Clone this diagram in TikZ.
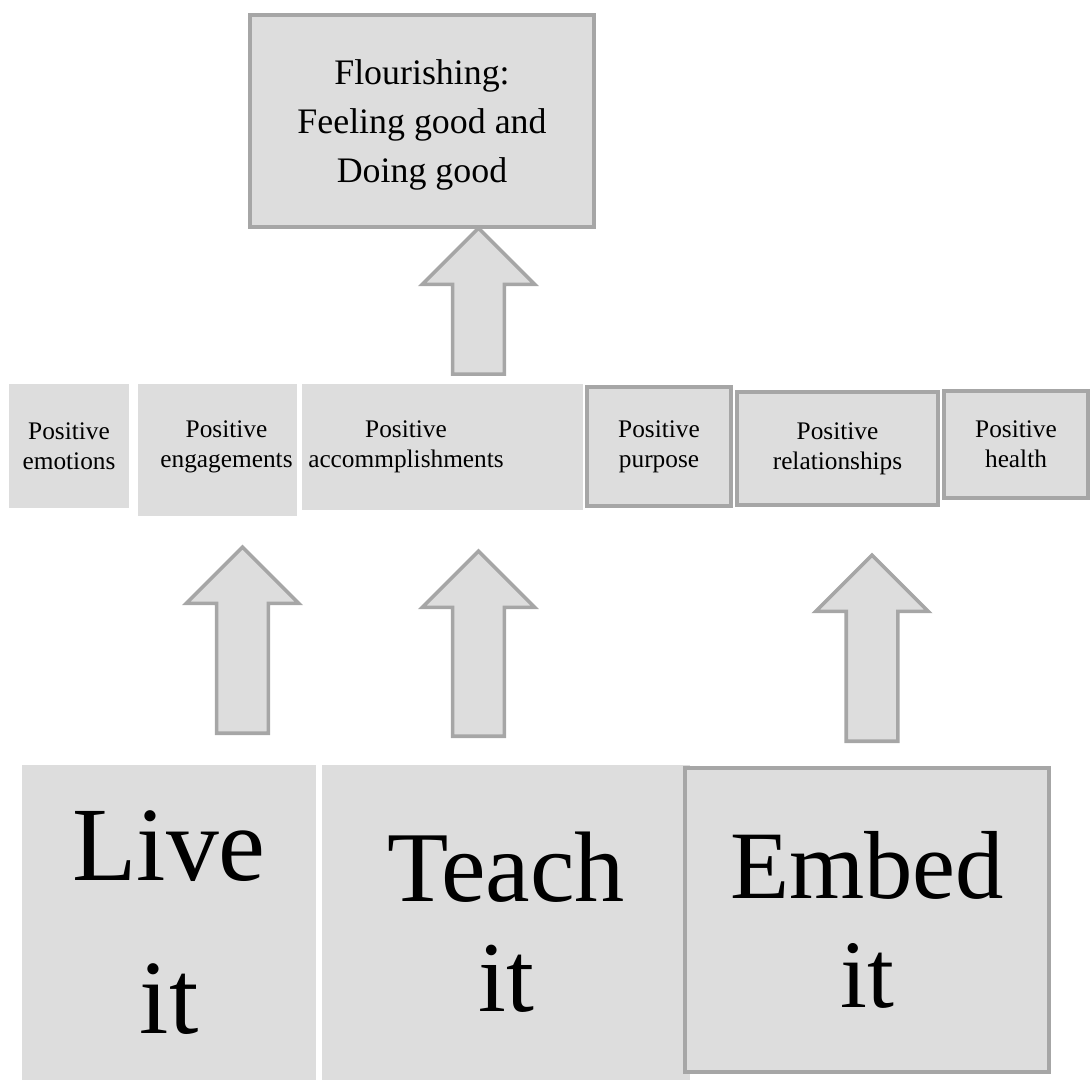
\documentclass[tikz,border=0pt]{standalone}
\usepackage{fontspec}
\setmainfont{Liberation Serif}
\usetikzlibrary{shapes.arrows}

\definecolor{boxgray}{HTML}{DDDDDD}
\definecolor{edgegray}{HTML}{A6A6A6}

\tikzset{
        plainbox/.style={fill=boxgray, inner sep=0pt, align=center},
        framedbox/.style={plainbox, draw=edgegray, line width=1.1pt},
        smalltext/.style={font=\fontsize{7.2}{8.6}\selectfont, align=center},
        uparrow/.style={single arrow, rotate=90, anchor=tail,
                inner xsep=0pt, inner ysep=0.24cm,
                fill=boxgray, draw=edgegray, line width=1pt,
                single arrow head extend=0.305cm}
}

\begin{document}
\begin{tikzpicture}[x=0.01cm, y=-0.01cm]
        \useasboundingbox (0,0) rectangle (1092,1080);

        \node[framedbox, minimum width=3.44cm, minimum height=2.12cm, text depth=0pt,
              font=\fontsize{10.2}{13.9}\selectfont] (goal) at (422,121)
              {Flourishing:\\Feeling good and\\Doing good};

        \node[plainbox, smalltext, minimum width=1.20cm, minimum height=1.24cm] (emo) at (69,446) {Positive\\emotions};
        \node[plainbox, minimum width=1.59cm, minimum height=1.32cm] (eng) at (217.5,450) {};
        \node[smalltext] (engtext) at (226.5,447) {Positive\\engagements};
        \node[plainbox, minimum width=2.81cm, minimum height=1.26cm] (acc) at (442.5,447) {};
        \node[smalltext] (acctext) at (406,447) {Positive\\accommplishments};
        \node[framedbox, smalltext, minimum width=1.44cm, minimum height=1.19cm] (pur) at (659,446.5) {Positive\\purpose};
        \node[framedbox, smalltext, minimum width=2.01cm, minimum height=1.13cm] (rel) at (837.5,448.5) {Positive\\relationships};
        \node[framedbox, smalltext, minimum width=1.44cm, minimum height=1.07cm] (hea) at (1016,444.5) {Positive\\health};

        \node[plainbox, minimum width=2.94cm, minimum height=3.15cm,
              font=\fontsize{30}{43.4}\selectfont] (live) at (169,922.5) {Live\\it};
        \node[plainbox, minimum width=3.68cm, minimum height=3.15cm,
              font=\fontsize{28.5}{31.2}\selectfont] (teach) at (506,922.5) {Teach\\it};
        \node[framedbox, minimum width=3.64cm, minimum height=3.04cm,
              font=\fontsize{27.5}{31.2}\selectfont] (embed) at (867,920) {Embed\\it};

        \node[uparrow, minimum height=1.86cm] (uplive) at (242.5,735) {};
        \node[uparrow, minimum height=1.85cm] (upteach) at (478.5,738) {};
        \node[uparrow, minimum height=1.86cm] (upembed) at (872,743) {};
        \node[uparrow, minimum height=1.46cm] (upgoal) at (478.5,376) {};
\end{tikzpicture}
\end{document}
